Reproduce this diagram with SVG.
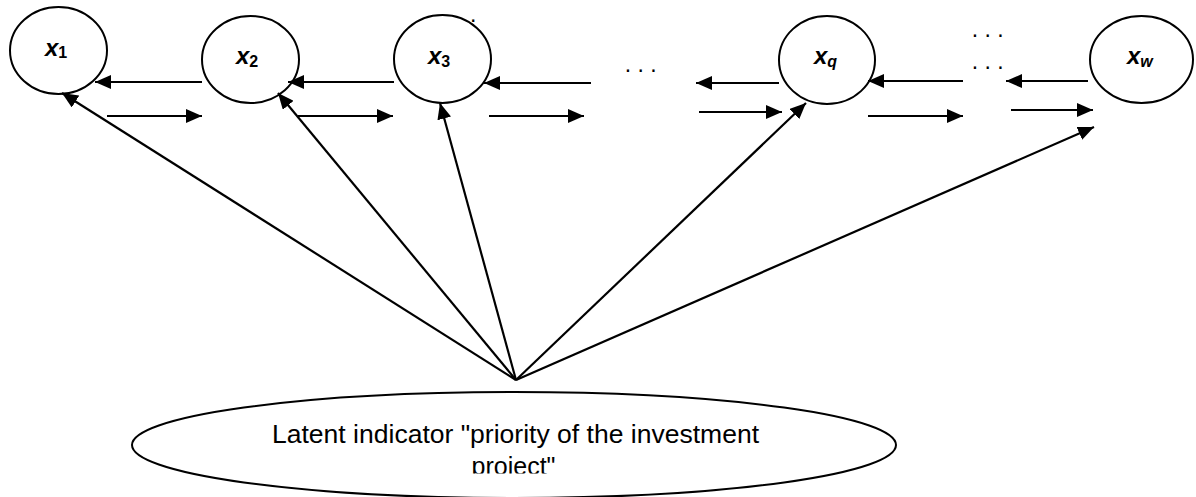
<svg xmlns="http://www.w3.org/2000/svg" width="1196" height="497" viewBox="0 0 1196 497">
<style>
.node{fill:#fff;stroke:#000;stroke-width:2}
.lbl{font-family:"Liberation Sans",Arial,sans-serif;font-size:24px;font-weight:bold;font-style:italic;fill:#000}
.sub{font-size:16px}
.subn{font-style:normal}
.dots{font-family:"Liberation Sans",Arial,sans-serif;font-size:23px;fill:#000}
.big{font-family:"Liberation Sans",Arial,sans-serif;font-size:26.5px;fill:#000}
.conn line{stroke:#000;stroke-width:2.2;marker-end:url(#ah)}
</style>
<defs>
<marker id="ah" markerUnits="userSpaceOnUse" markerWidth="16" markerHeight="14" refX="16" refY="7" orient="auto">
<path d="M0,0 L16,7 L0,14 z" fill="#000"/>
</marker>
<clipPath id="clip2"><rect x="0" y="0" width="1196" height="473.5"/></clipPath>
</defs>
<rect width="1196" height="497" fill="#fff"/>
<g id="latent">
<ellipse class="node" cx="514" cy="445" rx="382" ry="53"/>
<text class="big" x="515.5" y="443" text-anchor="middle" textLength="487" lengthAdjust="spacingAndGlyphs">Latent indicator "priority of the investment</text>
<text class="big" x="513.5" y="475" text-anchor="middle" textLength="84" lengthAdjust="spacingAndGlyphs" clip-path="url(#clip2)">project"</text>
</g>
<g id="x1">
<ellipse class="node" cx="58.5" cy="50.5" rx="48.5" ry="43.5"/>
<text class="lbl" x="45" y="56">x<tspan class="sub subn" dy="2">1</tspan></text>
</g>
<g id="x2">
<ellipse class="node" cx="250.5" cy="59.5" rx="48.5" ry="43.5"/>
<text class="lbl" x="236" y="64">x<tspan class="sub subn" dy="3">2</tspan></text>
</g>
<g id="x3">
<ellipse class="node" cx="442.5" cy="59" rx="48.5" ry="44"/>
<text class="lbl" x="428" y="64">x<tspan class="sub subn" dy="3">3</tspan></text>
</g>
<g id="xq">
<ellipse class="node" cx="827" cy="60" rx="48" ry="44"/>
<text class="lbl" x="814" y="64">x<tspan class="sub" dy="3">q</tspan></text>
</g>
<g id="xw">
<ellipse class="node" cx="1141.5" cy="59.5" rx="51.5" ry="43.5"/>
<text class="lbl" x="1127" y="64">x<tspan class="sub" dy="3">w</tspan></text>
</g>
<g id="ellipsis">
<text class="dots" x="470" y="22">.</text>
<text class="dots" x="624.8" y="72">. . .</text>
<text class="dots" x="971.8" y="37.2">. . .</text>
<text class="dots" x="971.8" y="69.2">. . .</text>
</g>
<g id="connectors" class="conn">
<line x1="202" y1="82" x2="95" y2="82"/>
<line x1="394" y1="82" x2="288" y2="82"/>
<line x1="591" y1="83" x2="484" y2="83"/>
<line x1="779" y1="83" x2="696" y2="83"/>
<line x1="963" y1="81" x2="868" y2="81"/>
<line x1="1088" y1="81" x2="1006" y2="81"/>
<line x1="107" y1="116" x2="202" y2="116"/>
<line x1="298" y1="116" x2="393" y2="116"/>
<line x1="489" y1="116" x2="584" y2="116"/>
<line x1="699" y1="112" x2="782" y2="112"/>
<line x1="868" y1="116" x2="963" y2="116"/>
<line x1="1011" y1="110" x2="1093" y2="110"/>
<line x1="516" y1="380" x2="62" y2="93"/>
<line x1="516" y1="380" x2="278" y2="93"/>
<line x1="516" y1="380" x2="440" y2="103"/>
<line x1="516" y1="380" x2="806" y2="103"/>
<line x1="516" y1="380" x2="1094" y2="127"/>
</g>
</svg>
